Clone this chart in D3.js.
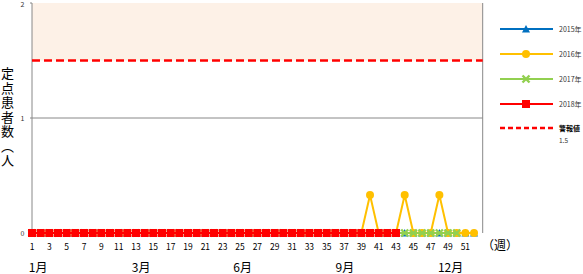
<!DOCTYPE html>
<html>
<head>
<meta charset="utf-8">
<script src="https://cdn.jsdelivr.net/npm/d3@7"></script>
<style>
  body { margin: 0; background: #fff; }
  svg { font-family: "Noto Sans CJK JP", "Noto Sans", sans-serif; }
</style>
</head>
<body>
<div id="vis"></div>
<script>

var weeks = d3.range(1, 53);

// 各年の定点患者数（週ごと）
var v2015 = weeks.map(function () { return 0; });
var v2016 = [0,0,0,0,0,0,0,0,0,0, 0,0,0,0,0,0,0,0,0,0,
             0,0,0,0,0,0,0,0,0,0, 0,0,0,0,0,0,0,0,0,0.33,
             0,0,0,0.33,0,0,0,0.33,0,0, 0,0];
var v2017 = [0,0,0,0,0,0,0,0,0,0, 0,0,0,0,0,0,0,0,0,0,
             0,0,0,0,0,0,0,0,0,0, 0,0,0,0,0,0,0,0,0,0,
             0,0,0,0,0,0,0,0,0,0];
var v2018 = [0,0,0,0,0,0,0,0,0,0, 0,0,0,0,0,0,0,0,0,0,
             0,0,0,0,0,0,0,0,0,0, 0,0,0,0,0,0,0,0,0,0,
             0,0,0];

var alarmValue = 1.5;
var yTicks = [0, 1, 2];
var monthLabels = [
  { label: '1月', week: 1.7 },
  { label: '3月', week: 13.6 },
  { label: '6月', week: 25.3 },
  { label: '9月', week: 37.1 },
  { label: '12月', week: 49.3 }
];

var series = [
  { name: '2015年', values: v2015, color: '#0070c0', marker: 'triangle' },
  { name: '2016年', values: v2016, color: '#ffc000', marker: 'circle' },
  { name: '2017年', values: v2017, color: '#92d050', marker: 'cross' },
  { name: '2018年', values: v2018, color: '#ff0000', marker: 'square' }
];

var width = 583;
var height = 274;
var plotL = 32, plotR = 482.7, plotT = 3, plotB = 233;

var x = d3.scaleLinear().domain([1, 53]).range([plotL, plotR]);
var y = d3.scaleLinear().domain([0, 2]).range([plotB, plotT]);

var svg = d3.select('#vis').append('svg')
  .attr('width', width)
  .attr('height', height);

// 警報値以上の帯
svg.append('rect')
  .attr('x', x(1)).attr('y', y(2))
  .attr('width', x(53) - x(1))
  .attr('height', y(alarmValue) - y(2))
  .attr('fill', '#fdf1e7');

// grid
svg.selectAll('.grid')
  .data([1])
  .enter().append('line')
  .attr('x1', plotL - 2).attr('x2', plotR)
  .attr('y1', function (d) { return y(d); })
  .attr('y2', function (d) { return y(d); })
  .attr('stroke', '#888').attr('stroke-width', 1);

svg.append('line')
  .attr('x1', plotL).attr('x2', plotL)
  .attr('y1', plotT).attr('y2', plotB)
  .attr('stroke', '#888');
svg.append('line')
  .attr('x1', plotR).attr('x2', plotR)
  .attr('y1', plotT).attr('y2', plotB)
  .attr('stroke', '#888');
svg.append('line')
  .attr('x1', plotL - 2).attr('x2', plotL)
  .attr('y1', y(2)).attr('y2', y(2))
  .attr('stroke', '#888');

svg.selectAll('.ylab')
  .data(yTicks)
  .enter().append('text')
  .attr('x', 24.5)
  .attr('y', function (d) { return Math.max(y(d) + 2.5, 6.5); })
  .attr('text-anchor', 'end')
  .attr('font-size', 7)
  .attr('fill', '#333')
  .text(function (d) { return d; });

// x tick labels (odd weeks)
svg.selectAll('.xlab')
  .data(weeks.filter(function (w) { return w % 2 === 1; }))
  .enter().append('text')
  .attr('x', function (d) { return x(d); })
  .attr('y', 250)
  .attr('text-anchor', 'middle')
  .attr('font-size', 8.5)
  .attr('fill', '#000')
  .text(function (d) { return d; });

svg.append('text')
  .attr('x', 482).attr('y', 250)
  .attr('font-size', 12)
  .text('（週）');

svg.selectAll('.month')
  .data(monthLabels)
  .enter().append('text')
  .attr('x', function (d) { return x(d.week); })
  .attr('y', 271.5)
  .attr('text-anchor', 'middle')
  .attr('font-size', 12)
  .text(function (d) { return d.label; });

// y title (vertical)
svg.append('text')
  .attr('x', 7.5).attr('y', 67)
  .attr('font-size', 13)
  .style('writing-mode', 'vertical-rl')
  .style('letter-spacing', '1.5px')
  .text('定点患者数（人');

// alarm line
svg.append('line')
  .attr('x1', plotL).attr('x2', plotR)
  .attr('y1', y(alarmValue)).attr('y2', y(alarmValue))
  .attr('stroke', '#ff0000')
  .attr('stroke-width', 2.5)
  .attr('stroke-dasharray', '8,4');

function drawMarker(g, type, color) {
  if (type === 'square') {
    g.append('rect').attr('x', -4).attr('y', -4).attr('width', 8).attr('height', 8)
      .attr('fill', color);
  } else if (type === 'circle') {
    g.append('circle').attr('r', 4).attr('fill', color);
  } else if (type === 'triangle') {
    g.append('path').attr('d', 'M0,-4L4,3.5L-4,3.5Z').attr('fill', color);
  } else {
    g.append('path').attr('d', 'M-3.5,-3.5L3.5,3.5M3.5,-3.5L-3.5,3.5')
      .attr('stroke', color).attr('stroke-width', 2.4);
  }
}

var line = d3.line()
  .x(function (d, i) { return x(i + 1); })
  .y(function (d) { return y(d); });

series.forEach(function (s) {
  var g = svg.append('g');
  g.append('path')
    .datum(s.values)
    .attr('d', line)
    .attr('fill', 'none')
    .attr('stroke', s.color)
    .attr('stroke-width', 2);
  g.selectAll('.m')
    .data(s.values)
    .enter().append('g')
    .attr('transform', function (d, i) { return 'translate(' + x(i + 1) + ',' + y(d) + ')'; })
    .each(function () { drawMarker(d3.select(this), s.marker, s.color); });
});

// legend
var legend = svg.append('g');
series.forEach(function (s, i) {
  var ly = 29 + i * 25;
  legend.append('line')
    .attr('x1', 500).attr('x2', 553)
    .attr('y1', ly).attr('y2', ly)
    .attr('stroke', s.color).attr('stroke-width', 2);
  var m = legend.append('g').attr('transform', 'translate(526,' + ly + ')');
  drawMarker(m, s.marker, s.color);
  legend.append('text')
    .attr('x', 559).attr('y', ly + 2.5)
    .attr('font-size', 7).attr('fill', '#333')
    .text(s.name);
});
legend.append('line')
  .attr('x1', 500).attr('x2', 553)
  .attr('y1', 128).attr('y2', 128)
  .attr('stroke', '#ff0000').attr('stroke-width', 2.5)
  .attr('stroke-dasharray', '5,3');
legend.append('text')
  .attr('x', 559).attr('y', 131)
  .attr('font-size', 7).attr('font-weight', 'bold')
  .text('警報値');
legend.append('text')
  .attr('x', 559).attr('y', 143)
  .attr('font-size', 6.5).attr('fill', '#333')
  .text(alarmValue);

</script>
</body>
</html>
